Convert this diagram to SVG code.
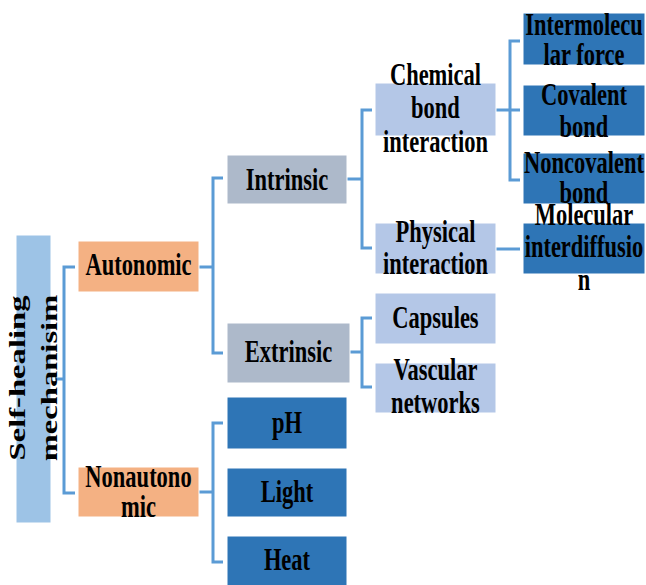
<svg xmlns="http://www.w3.org/2000/svg" width="646" height="585" viewBox="0 0 646 585">
<style>
.t{font-family:"Liberation Serif","Times New Roman",serif;font-weight:bold;font-size:22.5px;fill:#000;text-anchor:middle}
.c{fill:none;stroke:#5B9BD5;stroke-width:3}
.b{stroke:#fff;stroke-width:1}
.root{fill:#9DC3E6}.l1{fill:#F4B183}.l2{fill:#ADB9CA}.l3{fill:#B4C7E7}.dk{fill:#2E75B6}
</style>
<rect width="646" height="585" fill="#fff"/>
<g id="connectors" class="c">
<path d="M55,379H64M75,267H64V493H75"/>
<path d="M199,267H213M223,178H213V353H223"/>
<path d="M199,492H213M223,423H213V562H223"/>
<path d="M347,179H362M372,110H362V248H372"/>
<path d="M350,352H362M372,318H362V387H372"/>
<path d="M496,110H520M520,41H510V180H520"/>
<path d="M496,249H520"/>
</g>
<g id="root"><rect class="root b" x="16" y="235" width="35" height="288"/>
<text class="t" transform="translate(0,378) scale(1,1.45) rotate(-90)"><tspan x="0" y="25">Self-healing</tspan><tspan x="0" y="57">mechanisim</tspan></text></g>
<g id="autonomic"><rect class="l1 b" x="78" y="241" width="121" height="51"/>
<text class="t" transform="scale(1,1.45)" x="138.5" y="189.66">Autonomic</text></g>
<g id="nonautonomic"><rect class="l1 b" x="78" y="467" width="121" height="50"/>
<text class="t" transform="scale(1,1.45)"><tspan x="138.5" y="335.86">Nonautono</tspan><tspan x="138.5" y="356.55">mic</tspan></text></g>
<g id="intrinsic"><rect class="l2 b" x="227" y="155" width="120" height="49"/>
<text class="t" transform="scale(1,1.45)" x="287" y="131.03">Intrinsic</text></g>
<g id="extrinsic"><rect class="l2 b" x="227" y="323" width="123" height="60"/>
<text class="t" transform="scale(1,1.45)" x="288.5" y="249.66">Extrinsic</text></g>
<g id="ph"><rect class="dk b" x="227" y="397" width="120" height="52"/>
<text class="t" transform="scale(1,1.45)" x="287" y="298.62">pH</text></g>
<g id="light"><rect class="dk b" x="227" y="468" width="120" height="49"/>
<text class="t" transform="scale(1,1.45)" x="287" y="346.21">Light</text></g>
<g id="heat"><rect class="dk b" x="227" y="536" width="120" height="52"/>
<text class="t" transform="scale(1,1.45)" x="287" y="393.10">Heat</text></g>
<g id="chemical"><rect class="l3 b" x="375" y="83" width="121" height="53"/>
<text class="t" transform="scale(1,1.45)"><tspan x="435.5" y="58.62">Chemical</tspan><tspan x="435.5" y="81.38">bond</tspan><tspan x="435.5" y="104.83">interaction</tspan></text></g>
<g id="physical"><rect class="l3 b" x="375" y="223" width="121" height="51"/>
<text class="t" transform="scale(1,1.45)"><tspan x="435.5" y="166.9">Physical</tspan><tspan x="435.5" y="188.97">interaction</tspan></text></g>
<g id="capsules"><rect class="l3 b" x="375" y="293" width="121" height="51"/>
<text class="t" transform="scale(1,1.45)" x="435.5" y="226.21">Capsules</text></g>
<g id="vascular"><rect class="l3 b" x="375" y="363" width="121" height="50"/>
<text class="t" transform="scale(1,1.45)"><tspan x="435.5" y="262.07">Vascular</tspan><tspan x="435.5" y="284.83">networks</tspan></text></g>
<g id="intermolecular"><rect class="dk b" x="523" y="13" width="122" height="52"/>
<text class="t" transform="scale(1,1.45)"><tspan x="584" y="24.14">Intermolecu</tspan><tspan x="584" y="44.83">lar force</tspan></text></g>
<g id="covalent"><rect class="dk b" x="523" y="85" width="122" height="51"/>
<text class="t" transform="scale(1,1.45)"><tspan x="584" y="72.41">Covalent</tspan><tspan x="584" y="94.48">bond</tspan></text></g>
<g id="noncovalent"><rect class="dk b" x="523" y="153" width="122" height="51"/>
<text class="t" transform="scale(1,1.45)"><tspan x="584" y="119.31">Noncovalent</tspan><tspan x="584" y="140">bond</tspan></text></g>
<g id="molecular"><rect class="dk b" x="523" y="223" width="122" height="51"/>
<text class="t" transform="scale(1,1.45)"><tspan x="584" y="155.17">Molecular</tspan><tspan x="584" y="177.24">interdiffusio</tspan><tspan x="584" y="200">n</tspan></text></g>
</svg>
